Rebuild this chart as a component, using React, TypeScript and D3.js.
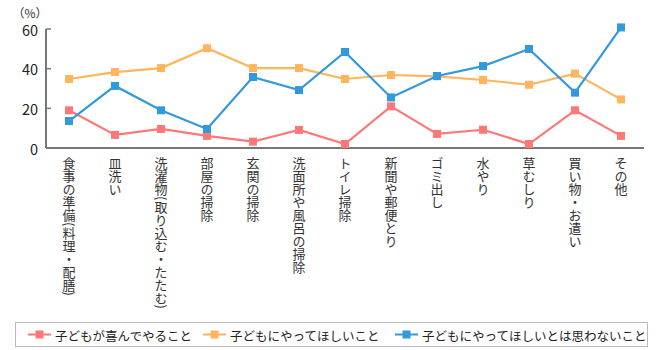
import * as d3 from "d3"
import { useEffect, useRef } from "react"

const categories = [
    "食事の準備(料理・配膳)", "皿洗い", "洗濯物(取り込む・たたむ)", "部屋の掃除", "玄関の掃除",
    "洗面所や風呂の掃除", "トイレ掃除", "新聞や郵便とり", "ゴミ出し", "水やり", "草むしり",
    "買い物・お遣い", "その他",
]
const enjoys = [19.0, 6.6, 9.6, 6.1, 3.2, 9.1, 2.0, 21.0, 7.1, 9.2, 2.0, 19.0, 6.1]
const wantDo = [34.8, 38.3, 40.3, 50.3, 40.3, 40.3, 34.8, 36.8, 36.1, 34.3, 31.9, 37.5, 24.5]
const notWant = [13.6, 31.3, 19.0, 9.6, 35.8, 29.2, 48.4, 25.5, 36.3, 41.3, 49.9, 27.9, 60.8]
const seriesNames = ["子どもが喜んでやること", "子どもにやってほしいこと", "子どもにやってほしいとは思わないこと"]
const colors = ["#ff7777", "#ffb55c", "#3399dd"]
const yTicks = [0, 20, 40, 60]

const FONT = "'Noto Sans CJK JP', 'Noto Sans', sans-serif"

const App = () => {
    const svgRef = useRef(null)

    useEffect(() => {
        const svg = d3.select(svgRef.current)
        svg.selectAll("*").remove()

        const x = d3.scaleBand().domain(categories).range([46, 644])
        const y = d3.scaleLinear().domain([0, 60]).range([148, 29])
        const cx = (c) => x(c) + x.bandwidth() / 2

        // axes
        svg.append("line")
            .attr("x1", 46).attr("x2", 46)
            .attr("y1", y(60)).attr("y2", y(0))
            .attr("stroke", "#777").attr("stroke-width", 2)
        svg.append("line")
            .attr("x1", 46).attr("x2", 644)
            .attr("y1", y(0)).attr("y2", y(0))
            .attr("stroke", "#777").attr("stroke-width", 2)
        yTicks.forEach(t => {
            svg.append("line")
                .attr("x1", 46).attr("x2", 51)
                .attr("y1", y(t)).attr("y2", y(t))
                .attr("stroke", "#777").attr("stroke-width", 1.5)
            svg.append("text")
                .attr("x", 38).attr("y", y(t))
                .attr("text-anchor", "end")
                .attr("dominant-baseline", "central")
                .attr("font-family", FONT)
                .attr("font-size", 14.5)
                .attr("fill", "#222")
                .text(t)
        })
        svg.append("text")
            .attr("x", 30).attr("y", 12)
            .attr("text-anchor", "middle")
            .attr("dominant-baseline", "central")
            .attr("font-family", FONT)
            .attr("font-size", 12)
            .attr("fill", "#333")
            .text("（%）")

        // vertical category labels
        categories.forEach(c => {
            svg.append("text")
                .attr("x", cx(c)).attr("y", 157)
                .style("writing-mode", "vertical-rl")
                .attr("font-family", FONT)
                .attr("font-size", 13)
                .attr("fill", "#333")
                .text(c)
        })

        const line = d3.line()
            .x((d, i) => cx(categories[i]))
            .y(d => y(d))

        ;[enjoys, wantDo, notWant].forEach((vals, k) => {
            const g = svg.append("g")
            g.append("path")
                .datum(vals)
                .attr("d", line)
                .attr("fill", "none")
                .attr("stroke", colors[k])
                .attr("stroke-width", 2.2)
            g.selectAll("rect")
                .data(vals)
                .join("rect")
                .attr("x", (d, i) => cx(categories[i]) - 4)
                .attr("y", d => y(d) - 4)
                .attr("width", 8).attr("height", 8)
                .attr("fill", colors[k])
        })

        // legend
        svg.append("rect")
            .attr("x", 15.5).attr("y", 322.5)
            .attr("width", 632).attr("height", 24)
            .attr("fill", "#fff").attr("stroke", "#bbb")
        const legendX = [28, 203, 395]
        seriesNames.forEach((n, k) => {
            const lx = legendX[k]
            svg.append("line")
                .attr("x1", lx).attr("x2", lx + 23)
                .attr("y1", 334.5).attr("y2", 334.5)
                .attr("stroke", colors[k]).attr("stroke-width", 2)
            svg.append("rect")
                .attr("x", lx + 7.5).attr("y", 330.5)
                .attr("width", 8).attr("height", 8)
                .attr("fill", colors[k])
            svg.append("text")
                .attr("x", lx + 27).attr("y", 335)
                .attr("dominant-baseline", "central")
                .attr("font-family", FONT)
                .attr("font-size", 12.5)
                .attr("fill", "#222")
                .text(n)
        })
    }, [])

    return (
        <svg ref={svgRef} width={660} height={350}
            style={{ position: "absolute", left: 0, top: 0, background: "#fff" }}></svg>
    )
}

export default App
